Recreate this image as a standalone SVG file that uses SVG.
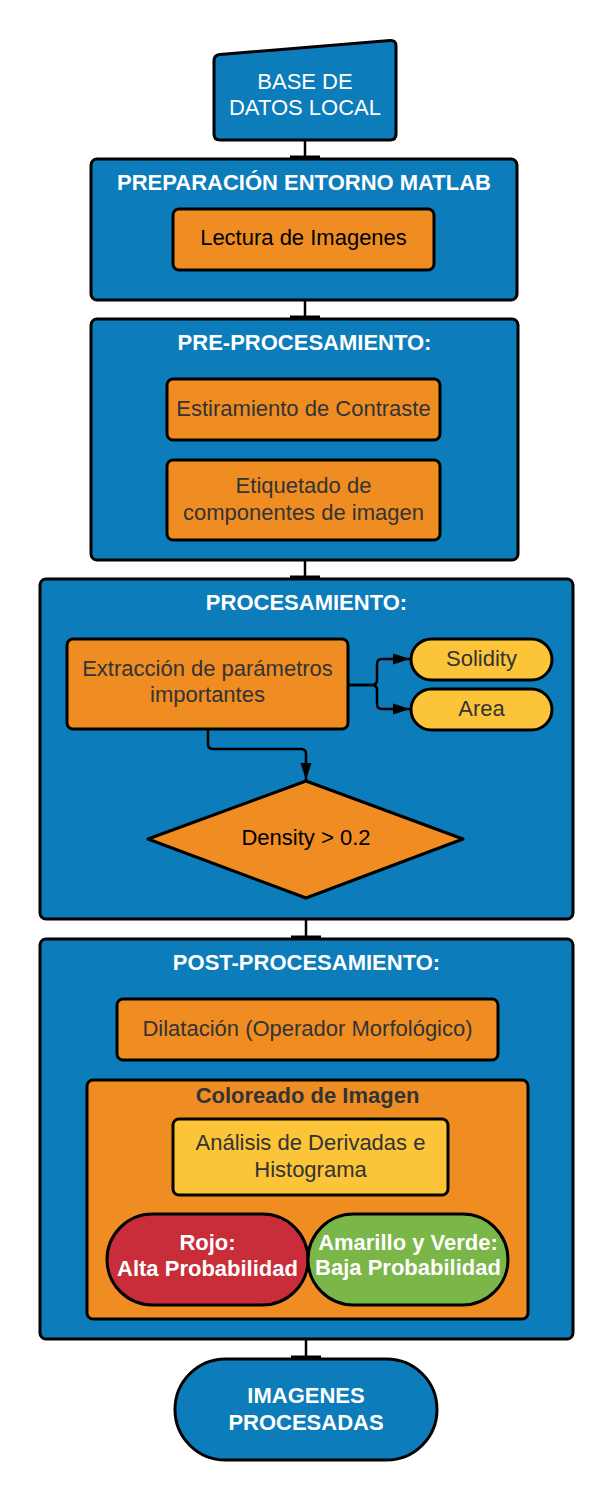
<svg xmlns="http://www.w3.org/2000/svg" width="613" height="1500" viewBox="0 0 613 1500">
<style>
.blue{fill:#0C7CBA;stroke:#000;stroke-width:3}
.orange{fill:#EF8D22;stroke:#000;stroke-width:3}
.yellow{fill:#FCC438;stroke:#000;stroke-width:3}
.red{fill:#C92D39;stroke:#000;stroke-width:3}
.green{fill:#7AB648;stroke:#000;stroke-width:3}
text{font-family:"Liberation Sans",Arial,sans-serif;font-size:22px;text-anchor:middle}
.title{font-weight:bold;fill:#fff}
.wt{fill:#fff}
.dk{fill:#333}
.bk{fill:#000}
.bt{font-weight:bold;fill:#333}
.conn{fill:none;stroke:#000;stroke-width:2.5}
</style>
<defs>
<marker id="tbar" markerUnits="userSpaceOnUse" viewBox="-3 -17 6 34" refX="0" refY="0" markerWidth="6" markerHeight="34" orient="auto">
<path d="M0,-15 L0,15" stroke="#000" stroke-width="3" fill="none"/>
</marker>
<marker id="arrow" markerUnits="userSpaceOnUse" viewBox="0 0 18 12" refX="17" refY="6" markerWidth="18" markerHeight="12" orient="auto">
<path d="M0,0.5 L17,6 L0,11.5 Z" fill="#000"/>
</marker>
</defs>

<g id="base-datos">
<path class="blue" stroke-linejoin="round" d="M214,61 Q214,55 220,54.5 L390,40.5 Q396,40 396,46 L396,134 Q396,140 390,140 L220,140 Q214,140 214,134 Z"/>
<text class="wt" x="305" y="89">BASE DE</text>
<text class="wt" x="305" y="115">DATOS LOCAL</text>
</g>

<g id="preparacion">
<rect class="blue" x="91" y="159" width="426" height="141" rx="6"/>
<text class="title" x="304" y="190">PREPARACIÓN ENTORNO MATLAB</text>
</g>
<g id="lectura">
<rect class="orange" x="173" y="209" width="261" height="61" rx="6"/>
<text class="bk" x="303.5" y="245">Lectura de Imagenes</text>
</g>

<g id="preprocesamiento">
<rect class="blue" x="91" y="319" width="427" height="241" rx="6"/>
<text class="title" x="304.5" y="350">PRE-PROCESAMIENTO:</text>
</g>
<g id="estiramiento">
<rect class="orange" x="167" y="379" width="273" height="61" rx="6"/>
<text class="dk" x="303.5" y="416">Estiramiento de Contraste</text>
</g>
<g id="etiquetado">
<rect class="orange" x="167" y="460" width="273" height="80" rx="6"/>
<text class="dk" x="303.5" y="493">Etiquetado de</text>
<text class="dk" x="303.5" y="520">componentes de imagen</text>
</g>

<g id="procesamiento">
<rect class="blue" x="40" y="579" width="533" height="340" rx="6"/>
<text class="title" x="306.5" y="610">PROCESAMIENTO:</text>
</g>
<g id="extraccion">
<rect class="orange" x="67" y="639" width="281" height="90" rx="6"/>
<text class="dk" x="207.5" y="676">Extracción de parámetros</text>
<text class="dk" x="207.5" y="702">importantes</text>
</g>
<g id="solidity">
<rect class="yellow" x="411" y="639" width="141" height="41" rx="20.5"/>
<text class="dk" x="481.5" y="666">Solidity</text>
</g>
<g id="area">
<rect class="yellow" x="411" y="689" width="141" height="41" rx="20.5"/>
<text class="dk" x="481.5" y="716">Area</text>
</g>
<g id="density">
<path class="orange" stroke-linejoin="round" d="M306,781 L463,839 L306,898 L148,839 Z"/>
<text class="bk" x="306" y="845">Density &gt; 0.2</text>
</g>

<g id="postprocesamiento">
<rect class="blue" x="40" y="939" width="533" height="400" rx="6"/>
<text class="title" x="306.5" y="970">POST-PROCESAMIENTO:</text>
</g>
<g id="dilatacion">
<rect class="orange" x="117" y="999" width="381" height="61" rx="6"/>
<text class="dk" x="307.5" y="1036">Dilatación (Operador Morfológico)</text>
</g>
<g id="coloreado">
<rect class="orange" x="87" y="1080" width="441" height="239" rx="6"/>
<text class="bt" x="307.5" y="1103">Coloreado de Imagen</text>
</g>
<g id="analisis">
<rect class="yellow" x="173" y="1119" width="275" height="76" rx="6"/>
<text class="dk" x="310.5" y="1150">Análisis de Derivadas e</text>
<text class="dk" x="310.5" y="1177">Histograma</text>
</g>
<g id="rojo">
<rect class="red" x="107" y="1214" width="201" height="91" rx="45.5"/>
<text class="title" x="207.5" y="1250">Rojo:</text>
<text class="title" x="207.5" y="1276">Alta Probabilidad</text>
</g>
<g id="verde">
<rect class="green" x="308" y="1214" width="200" height="91" rx="45.5"/>
<text class="title" x="408" y="1250">Amarillo y Verde:</text>
<text class="title" x="408" y="1275">Baja Probabilidad</text>
</g>

<g id="imagenes-procesadas">
<rect class="blue" x="175" y="1359" width="262" height="101" rx="50.5"/>
<text class="title" x="306" y="1403">IMAGENES</text>
<text class="title" x="306" y="1430">PROCESADAS</text>
</g>

<g id="connectors">
<path class="conn" d="M305,140 L305,157" marker-end="url(#tbar)"/>
<path class="conn" d="M305,300 L305,317" marker-end="url(#tbar)"/>
<path class="conn" d="M305,560 L305,577" marker-end="url(#tbar)"/>
<path class="conn" d="M306,919 L306,937" marker-end="url(#tbar)"/>
<path class="conn" d="M306,1339 L306,1357" marker-end="url(#tbar)"/>
<path class="conn" d="M348,685 L372,685 Q377,685 377,680 L377,664 Q377,659 382,659 L410,659" marker-end="url(#arrow)"/>
<path class="conn" d="M348,685 L372,685 Q377,685 377,690 L377,704 Q377,709 382,709 L410,709" marker-end="url(#arrow)"/>
<path class="conn" d="M208,729 L208,744 Q208,749 213,749 L301,749 Q306,749 306,754 L306,780" marker-end="url(#arrow)"/>
</g>
</svg>
